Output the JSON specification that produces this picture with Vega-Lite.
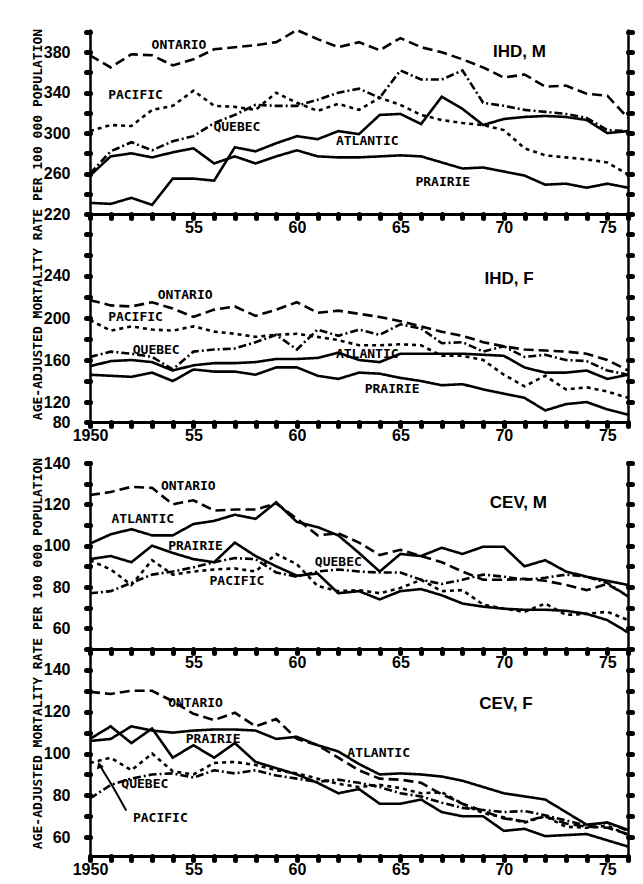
{
"$schema": "https://vega.github.io/schema/vega-lite/v6.json",
"background": "white",
"padding": {"left": 30, "top": 24, "right": 5, "bottom": 5},
"config": {
  "view": {"stroke": null},
  "axis": {"domainColor": "black", "tickColor": "black", "labelColor": "black", "titleColor": "black", "grid": false, "tickCap": "round", "tickWidth": 5, "tickSize": 4, "domainWidth": 2.5, "labelFont": "Liberation Sans Narrow, Liberation Sans, sans-serif", "labelFontWeight": "bold", "labelFontSize": 16, "labelFlush": false, "labelOverlap": false},
  "axisX": {"labelFontSize": 16, "labelPadding": 1, "domainWidth": 3},
  "axisY": {"labelPadding": 16}
},
"datasets": {
"s": [
{"p":"IHDM","r":"Ontario","y":1950,"v":377},{"p":"IHDM","r":"Ontario","y":1951,"v":365},{"p":"IHDM","r":"Ontario","y":1952,"v":378},{"p":"IHDM","r":"Ontario","y":1953,"v":377},{"p":"IHDM","r":"Ontario","y":1954,"v":367},{"p":"IHDM","r":"Ontario","y":1955,"v":373},{"p":"IHDM","r":"Ontario","y":1956,"v":383},{"p":"IHDM","r":"Ontario","y":1957,"v":385},{"p":"IHDM","r":"Ontario","y":1958,"v":387},{"p":"IHDM","r":"Ontario","y":1959,"v":390},{"p":"IHDM","r":"Ontario","y":1960,"v":402},{"p":"IHDM","r":"Ontario","y":1961,"v":393},{"p":"IHDM","r":"Ontario","y":1962,"v":385},{"p":"IHDM","r":"Ontario","y":1963,"v":390},{"p":"IHDM","r":"Ontario","y":1964,"v":382},{"p":"IHDM","r":"Ontario","y":1965,"v":394},{"p":"IHDM","r":"Ontario","y":1966,"v":385},{"p":"IHDM","r":"Ontario","y":1967,"v":380},{"p":"IHDM","r":"Ontario","y":1968,"v":373},{"p":"IHDM","r":"Ontario","y":1969,"v":365},{"p":"IHDM","r":"Ontario","y":1970,"v":355},{"p":"IHDM","r":"Ontario","y":1971,"v":358},{"p":"IHDM","r":"Ontario","y":1972,"v":346},{"p":"IHDM","r":"Ontario","y":1973,"v":347},{"p":"IHDM","r":"Ontario","y":1974,"v":339},{"p":"IHDM","r":"Ontario","y":1975,"v":337},{"p":"IHDM","r":"Ontario","y":1976,"v":315},
{"p":"IHDM","r":"Pacific","y":1950,"v":302},{"p":"IHDM","r":"Pacific","y":1951,"v":308},{"p":"IHDM","r":"Pacific","y":1952,"v":307},{"p":"IHDM","r":"Pacific","y":1953,"v":323},{"p":"IHDM","r":"Pacific","y":1954,"v":327},{"p":"IHDM","r":"Pacific","y":1955,"v":342},{"p":"IHDM","r":"Pacific","y":1956,"v":327},{"p":"IHDM","r":"Pacific","y":1957,"v":326},{"p":"IHDM","r":"Pacific","y":1958,"v":323},{"p":"IHDM","r":"Pacific","y":1959,"v":340},{"p":"IHDM","r":"Pacific","y":1960,"v":330},{"p":"IHDM","r":"Pacific","y":1961,"v":322},{"p":"IHDM","r":"Pacific","y":1962,"v":329},{"p":"IHDM","r":"Pacific","y":1963,"v":323},{"p":"IHDM","r":"Pacific","y":1964,"v":335},{"p":"IHDM","r":"Pacific","y":1965,"v":328},{"p":"IHDM","r":"Pacific","y":1966,"v":318},{"p":"IHDM","r":"Pacific","y":1967,"v":313},{"p":"IHDM","r":"Pacific","y":1968,"v":310},{"p":"IHDM","r":"Pacific","y":1969,"v":308},{"p":"IHDM","r":"Pacific","y":1970,"v":303},{"p":"IHDM","r":"Pacific","y":1971,"v":285},{"p":"IHDM","r":"Pacific","y":1972,"v":278},{"p":"IHDM","r":"Pacific","y":1973,"v":276},{"p":"IHDM","r":"Pacific","y":1974,"v":274},{"p":"IHDM","r":"Pacific","y":1975,"v":271},{"p":"IHDM","r":"Pacific","y":1976,"v":259},
{"p":"IHDM","r":"Quebec","y":1950,"v":260},{"p":"IHDM","r":"Quebec","y":1951,"v":282},{"p":"IHDM","r":"Quebec","y":1952,"v":291},{"p":"IHDM","r":"Quebec","y":1953,"v":283},{"p":"IHDM","r":"Quebec","y":1954,"v":292},{"p":"IHDM","r":"Quebec","y":1955,"v":297},{"p":"IHDM","r":"Quebec","y":1956,"v":310},{"p":"IHDM","r":"Quebec","y":1957,"v":318},{"p":"IHDM","r":"Quebec","y":1958,"v":328},{"p":"IHDM","r":"Quebec","y":1959,"v":327},{"p":"IHDM","r":"Quebec","y":1960,"v":327},{"p":"IHDM","r":"Quebec","y":1961,"v":333},{"p":"IHDM","r":"Quebec","y":1962,"v":340},{"p":"IHDM","r":"Quebec","y":1963,"v":344},{"p":"IHDM","r":"Quebec","y":1964,"v":335},{"p":"IHDM","r":"Quebec","y":1965,"v":362},{"p":"IHDM","r":"Quebec","y":1966,"v":353},{"p":"IHDM","r":"Quebec","y":1967,"v":353},{"p":"IHDM","r":"Quebec","y":1968,"v":362},{"p":"IHDM","r":"Quebec","y":1969,"v":330},{"p":"IHDM","r":"Quebec","y":1970,"v":327},{"p":"IHDM","r":"Quebec","y":1971,"v":323},{"p":"IHDM","r":"Quebec","y":1972,"v":321},{"p":"IHDM","r":"Quebec","y":1973,"v":319},{"p":"IHDM","r":"Quebec","y":1974,"v":315},{"p":"IHDM","r":"Quebec","y":1975,"v":303},{"p":"IHDM","r":"Quebec","y":1976,"v":302},
{"p":"IHDM","r":"Atlantic","y":1950,"v":231},{"p":"IHDM","r":"Atlantic","y":1951,"v":230},{"p":"IHDM","r":"Atlantic","y":1952,"v":236},{"p":"IHDM","r":"Atlantic","y":1953,"v":229},{"p":"IHDM","r":"Atlantic","y":1954,"v":255},{"p":"IHDM","r":"Atlantic","y":1955,"v":255},{"p":"IHDM","r":"Atlantic","y":1956,"v":253},{"p":"IHDM","r":"Atlantic","y":1957,"v":286},{"p":"IHDM","r":"Atlantic","y":1958,"v":282},{"p":"IHDM","r":"Atlantic","y":1959,"v":290},{"p":"IHDM","r":"Atlantic","y":1960,"v":297},{"p":"IHDM","r":"Atlantic","y":1961,"v":294},{"p":"IHDM","r":"Atlantic","y":1962,"v":302},{"p":"IHDM","r":"Atlantic","y":1963,"v":299},{"p":"IHDM","r":"Atlantic","y":1964,"v":318},{"p":"IHDM","r":"Atlantic","y":1965,"v":319},{"p":"IHDM","r":"Atlantic","y":1966,"v":309},{"p":"IHDM","r":"Atlantic","y":1967,"v":336},{"p":"IHDM","r":"Atlantic","y":1968,"v":324},{"p":"IHDM","r":"Atlantic","y":1969,"v":308},{"p":"IHDM","r":"Atlantic","y":1970,"v":314},{"p":"IHDM","r":"Atlantic","y":1971,"v":316},{"p":"IHDM","r":"Atlantic","y":1972,"v":317},{"p":"IHDM","r":"Atlantic","y":1973,"v":316},{"p":"IHDM","r":"Atlantic","y":1974,"v":313},{"p":"IHDM","r":"Atlantic","y":1975,"v":300},{"p":"IHDM","r":"Atlantic","y":1976,"v":302},
{"p":"IHDM","r":"Prairie","y":1950,"v":258},{"p":"IHDM","r":"Prairie","y":1951,"v":277},{"p":"IHDM","r":"Prairie","y":1952,"v":280},{"p":"IHDM","r":"Prairie","y":1953,"v":276},{"p":"IHDM","r":"Prairie","y":1954,"v":281},{"p":"IHDM","r":"Prairie","y":1955,"v":285},{"p":"IHDM","r":"Prairie","y":1956,"v":270},{"p":"IHDM","r":"Prairie","y":1957,"v":277},{"p":"IHDM","r":"Prairie","y":1958,"v":270},{"p":"IHDM","r":"Prairie","y":1959,"v":277},{"p":"IHDM","r":"Prairie","y":1960,"v":283},{"p":"IHDM","r":"Prairie","y":1961,"v":277},{"p":"IHDM","r":"Prairie","y":1962,"v":276},{"p":"IHDM","r":"Prairie","y":1963,"v":276},{"p":"IHDM","r":"Prairie","y":1964,"v":277},{"p":"IHDM","r":"Prairie","y":1965,"v":278},{"p":"IHDM","r":"Prairie","y":1966,"v":277},{"p":"IHDM","r":"Prairie","y":1967,"v":271},{"p":"IHDM","r":"Prairie","y":1968,"v":265},{"p":"IHDM","r":"Prairie","y":1969,"v":266},{"p":"IHDM","r":"Prairie","y":1970,"v":262},{"p":"IHDM","r":"Prairie","y":1971,"v":258},{"p":"IHDM","r":"Prairie","y":1972,"v":249},{"p":"IHDM","r":"Prairie","y":1973,"v":250},{"p":"IHDM","r":"Prairie","y":1974,"v":246},{"p":"IHDM","r":"Prairie","y":1975,"v":250},{"p":"IHDM","r":"Prairie","y":1976,"v":246},
{"p":"IHDF","r":"Ontario","y":1950,"v":217},{"p":"IHDF","r":"Ontario","y":1951,"v":212},{"p":"IHDF","r":"Ontario","y":1952,"v":211},{"p":"IHDF","r":"Ontario","y":1953,"v":215},{"p":"IHDF","r":"Ontario","y":1954,"v":209},{"p":"IHDF","r":"Ontario","y":1955,"v":201},{"p":"IHDF","r":"Ontario","y":1956,"v":208},{"p":"IHDF","r":"Ontario","y":1957,"v":211},{"p":"IHDF","r":"Ontario","y":1958,"v":202},{"p":"IHDF","r":"Ontario","y":1959,"v":208},{"p":"IHDF","r":"Ontario","y":1960,"v":215},{"p":"IHDF","r":"Ontario","y":1961,"v":205},{"p":"IHDF","r":"Ontario","y":1962,"v":207},{"p":"IHDF","r":"Ontario","y":1963,"v":204},{"p":"IHDF","r":"Ontario","y":1964,"v":201},{"p":"IHDF","r":"Ontario","y":1965,"v":197},{"p":"IHDF","r":"Ontario","y":1966,"v":192},{"p":"IHDF","r":"Ontario","y":1967,"v":187},{"p":"IHDF","r":"Ontario","y":1968,"v":183},{"p":"IHDF","r":"Ontario","y":1969,"v":177},{"p":"IHDF","r":"Ontario","y":1970,"v":173},{"p":"IHDF","r":"Ontario","y":1971,"v":170},{"p":"IHDF","r":"Ontario","y":1972,"v":169},{"p":"IHDF","r":"Ontario","y":1973,"v":168},{"p":"IHDF","r":"Ontario","y":1974,"v":166},{"p":"IHDF","r":"Ontario","y":1975,"v":160},{"p":"IHDF","r":"Ontario","y":1976,"v":150},
{"p":"IHDF","r":"Pacific","y":1950,"v":198},{"p":"IHDF","r":"Pacific","y":1951,"v":188},{"p":"IHDF","r":"Pacific","y":1952,"v":192},{"p":"IHDF","r":"Pacific","y":1953,"v":189},{"p":"IHDF","r":"Pacific","y":1954,"v":188},{"p":"IHDF","r":"Pacific","y":1955,"v":192},{"p":"IHDF","r":"Pacific","y":1956,"v":187},{"p":"IHDF","r":"Pacific","y":1957,"v":185},{"p":"IHDF","r":"Pacific","y":1958,"v":182},{"p":"IHDF","r":"Pacific","y":1959,"v":184},{"p":"IHDF","r":"Pacific","y":1960,"v":185},{"p":"IHDF","r":"Pacific","y":1961,"v":182},{"p":"IHDF","r":"Pacific","y":1962,"v":179},{"p":"IHDF","r":"Pacific","y":1963,"v":174},{"p":"IHDF","r":"Pacific","y":1964,"v":174},{"p":"IHDF","r":"Pacific","y":1965,"v":175},{"p":"IHDF","r":"Pacific","y":1966,"v":174},{"p":"IHDF","r":"Pacific","y":1967,"v":164},{"p":"IHDF","r":"Pacific","y":1968,"v":164},{"p":"IHDF","r":"Pacific","y":1969,"v":160},{"p":"IHDF","r":"Pacific","y":1970,"v":146},{"p":"IHDF","r":"Pacific","y":1971,"v":135},{"p":"IHDF","r":"Pacific","y":1972,"v":145},{"p":"IHDF","r":"Pacific","y":1973,"v":132},{"p":"IHDF","r":"Pacific","y":1974,"v":134},{"p":"IHDF","r":"Pacific","y":1975,"v":130},{"p":"IHDF","r":"Pacific","y":1976,"v":124},
{"p":"IHDF","r":"Quebec","y":1950,"v":163},{"p":"IHDF","r":"Quebec","y":1951,"v":168},{"p":"IHDF","r":"Quebec","y":1952,"v":166},{"p":"IHDF","r":"Quebec","y":1953,"v":163},{"p":"IHDF","r":"Quebec","y":1954,"v":151},{"p":"IHDF","r":"Quebec","y":1955,"v":168},{"p":"IHDF","r":"Quebec","y":1956,"v":170},{"p":"IHDF","r":"Quebec","y":1957,"v":171},{"p":"IHDF","r":"Quebec","y":1958,"v":177},{"p":"IHDF","r":"Quebec","y":1959,"v":184},{"p":"IHDF","r":"Quebec","y":1960,"v":170},{"p":"IHDF","r":"Quebec","y":1961,"v":189},{"p":"IHDF","r":"Quebec","y":1962,"v":183},{"p":"IHDF","r":"Quebec","y":1963,"v":189},{"p":"IHDF","r":"Quebec","y":1964,"v":184},{"p":"IHDF","r":"Quebec","y":1965,"v":194},{"p":"IHDF","r":"Quebec","y":1966,"v":190},{"p":"IHDF","r":"Quebec","y":1967,"v":176},{"p":"IHDF","r":"Quebec","y":1968,"v":177},{"p":"IHDF","r":"Quebec","y":1969,"v":168},{"p":"IHDF","r":"Quebec","y":1970,"v":173},{"p":"IHDF","r":"Quebec","y":1971,"v":163},{"p":"IHDF","r":"Quebec","y":1972,"v":165},{"p":"IHDF","r":"Quebec","y":1973,"v":160},{"p":"IHDF","r":"Quebec","y":1974,"v":159},{"p":"IHDF","r":"Quebec","y":1975,"v":150},{"p":"IHDF","r":"Quebec","y":1976,"v":146},
{"p":"IHDF","r":"Atlantic","y":1950,"v":154},{"p":"IHDF","r":"Atlantic","y":1951,"v":159},{"p":"IHDF","r":"Atlantic","y":1952,"v":160},{"p":"IHDF","r":"Atlantic","y":1953,"v":158},{"p":"IHDF","r":"Atlantic","y":1954,"v":150},{"p":"IHDF","r":"Atlantic","y":1955,"v":155},{"p":"IHDF","r":"Atlantic","y":1956,"v":157},{"p":"IHDF","r":"Atlantic","y":1957,"v":157},{"p":"IHDF","r":"Atlantic","y":1958,"v":158},{"p":"IHDF","r":"Atlantic","y":1959,"v":161},{"p":"IHDF","r":"Atlantic","y":1960,"v":161},{"p":"IHDF","r":"Atlantic","y":1961,"v":162},{"p":"IHDF","r":"Atlantic","y":1962,"v":167},{"p":"IHDF","r":"Atlantic","y":1963,"v":160},{"p":"IHDF","r":"Atlantic","y":1964,"v":158},{"p":"IHDF","r":"Atlantic","y":1965,"v":166},{"p":"IHDF","r":"Atlantic","y":1966,"v":166},{"p":"IHDF","r":"Atlantic","y":1967,"v":166},{"p":"IHDF","r":"Atlantic","y":1968,"v":166},{"p":"IHDF","r":"Atlantic","y":1969,"v":165},{"p":"IHDF","r":"Atlantic","y":1970,"v":164},{"p":"IHDF","r":"Atlantic","y":1971,"v":153},{"p":"IHDF","r":"Atlantic","y":1972,"v":148},{"p":"IHDF","r":"Atlantic","y":1973,"v":148},{"p":"IHDF","r":"Atlantic","y":1974,"v":150},{"p":"IHDF","r":"Atlantic","y":1975,"v":142},{"p":"IHDF","r":"Atlantic","y":1976,"v":146},
{"p":"IHDF","r":"Prairie","y":1950,"v":146},{"p":"IHDF","r":"Prairie","y":1951,"v":145},{"p":"IHDF","r":"Prairie","y":1952,"v":144},{"p":"IHDF","r":"Prairie","y":1953,"v":148},{"p":"IHDF","r":"Prairie","y":1954,"v":140},{"p":"IHDF","r":"Prairie","y":1955,"v":151},{"p":"IHDF","r":"Prairie","y":1956,"v":149},{"p":"IHDF","r":"Prairie","y":1957,"v":149},{"p":"IHDF","r":"Prairie","y":1958,"v":146},{"p":"IHDF","r":"Prairie","y":1959,"v":153},{"p":"IHDF","r":"Prairie","y":1960,"v":153},{"p":"IHDF","r":"Prairie","y":1961,"v":145},{"p":"IHDF","r":"Prairie","y":1962,"v":142},{"p":"IHDF","r":"Prairie","y":1963,"v":148},{"p":"IHDF","r":"Prairie","y":1964,"v":147},{"p":"IHDF","r":"Prairie","y":1965,"v":143},{"p":"IHDF","r":"Prairie","y":1966,"v":140},{"p":"IHDF","r":"Prairie","y":1967,"v":136},{"p":"IHDF","r":"Prairie","y":1968,"v":137},{"p":"IHDF","r":"Prairie","y":1969,"v":132},{"p":"IHDF","r":"Prairie","y":1970,"v":128},{"p":"IHDF","r":"Prairie","y":1971,"v":124},{"p":"IHDF","r":"Prairie","y":1972,"v":112},{"p":"IHDF","r":"Prairie","y":1973,"v":118},{"p":"IHDF","r":"Prairie","y":1974,"v":120},{"p":"IHDF","r":"Prairie","y":1975,"v":113},{"p":"IHDF","r":"Prairie","y":1976,"v":108},
{"p":"CEVM","r":"Ontario","y":1950,"v":124.5},{"p":"CEVM","r":"Ontario","y":1951,"v":126},{"p":"CEVM","r":"Ontario","y":1952,"v":128.5},{"p":"CEVM","r":"Ontario","y":1953,"v":128},{"p":"CEVM","r":"Ontario","y":1954,"v":120},{"p":"CEVM","r":"Ontario","y":1955,"v":122},{"p":"CEVM","r":"Ontario","y":1956,"v":117},{"p":"CEVM","r":"Ontario","y":1957,"v":117.5},{"p":"CEVM","r":"Ontario","y":1958,"v":117.5},{"p":"CEVM","r":"Ontario","y":1959,"v":120.5},{"p":"CEVM","r":"Ontario","y":1960,"v":113},{"p":"CEVM","r":"Ontario","y":1961,"v":105},{"p":"CEVM","r":"Ontario","y":1962,"v":106},{"p":"CEVM","r":"Ontario","y":1963,"v":101.5},{"p":"CEVM","r":"Ontario","y":1964,"v":95.5},{"p":"CEVM","r":"Ontario","y":1965,"v":98},{"p":"CEVM","r":"Ontario","y":1966,"v":95},{"p":"CEVM","r":"Ontario","y":1967,"v":92},{"p":"CEVM","r":"Ontario","y":1968,"v":87.5},{"p":"CEVM","r":"Ontario","y":1969,"v":83.5},{"p":"CEVM","r":"Ontario","y":1970,"v":83.5},{"p":"CEVM","r":"Ontario","y":1971,"v":84},{"p":"CEVM","r":"Ontario","y":1972,"v":83},{"p":"CEVM","r":"Ontario","y":1973,"v":81},{"p":"CEVM","r":"Ontario","y":1974,"v":78.5},{"p":"CEVM","r":"Ontario","y":1975,"v":81.5},{"p":"CEVM","r":"Ontario","y":1976,"v":75.5},
{"p":"CEVM","r":"Pacific","y":1950,"v":93},{"p":"CEVM","r":"Pacific","y":1951,"v":88.5},{"p":"CEVM","r":"Pacific","y":1952,"v":81},{"p":"CEVM","r":"Pacific","y":1953,"v":93},{"p":"CEVM","r":"Pacific","y":1954,"v":86},{"p":"CEVM","r":"Pacific","y":1955,"v":87.5},{"p":"CEVM","r":"Pacific","y":1956,"v":88.5},{"p":"CEVM","r":"Pacific","y":1957,"v":89},{"p":"CEVM","r":"Pacific","y":1958,"v":87.5},{"p":"CEVM","r":"Pacific","y":1959,"v":96},{"p":"CEVM","r":"Pacific","y":1960,"v":91},{"p":"CEVM","r":"Pacific","y":1961,"v":80.5},{"p":"CEVM","r":"Pacific","y":1962,"v":78},{"p":"CEVM","r":"Pacific","y":1963,"v":78.5},{"p":"CEVM","r":"Pacific","y":1964,"v":77},{"p":"CEVM","r":"Pacific","y":1965,"v":79.5},{"p":"CEVM","r":"Pacific","y":1966,"v":83.5},{"p":"CEVM","r":"Pacific","y":1967,"v":78},{"p":"CEVM","r":"Pacific","y":1968,"v":78.5},{"p":"CEVM","r":"Pacific","y":1969,"v":71.5},{"p":"CEVM","r":"Pacific","y":1970,"v":69.5},{"p":"CEVM","r":"Pacific","y":1971,"v":68},{"p":"CEVM","r":"Pacific","y":1972,"v":72},{"p":"CEVM","r":"Pacific","y":1973,"v":66.5},{"p":"CEVM","r":"Pacific","y":1974,"v":67},{"p":"CEVM","r":"Pacific","y":1975,"v":68},{"p":"CEVM","r":"Pacific","y":1976,"v":64},
{"p":"CEVM","r":"Quebec","y":1950,"v":77},{"p":"CEVM","r":"Quebec","y":1951,"v":78},{"p":"CEVM","r":"Quebec","y":1952,"v":82},{"p":"CEVM","r":"Quebec","y":1953,"v":86},{"p":"CEVM","r":"Quebec","y":1954,"v":87.5},{"p":"CEVM","r":"Quebec","y":1955,"v":89.5},{"p":"CEVM","r":"Quebec","y":1956,"v":92},{"p":"CEVM","r":"Quebec","y":1957,"v":94},{"p":"CEVM","r":"Quebec","y":1958,"v":93.5},{"p":"CEVM","r":"Quebec","y":1959,"v":87},{"p":"CEVM","r":"Quebec","y":1960,"v":85},{"p":"CEVM","r":"Quebec","y":1961,"v":87.5},{"p":"CEVM","r":"Quebec","y":1962,"v":88.5},{"p":"CEVM","r":"Quebec","y":1963,"v":87.5},{"p":"CEVM","r":"Quebec","y":1964,"v":87},{"p":"CEVM","r":"Quebec","y":1965,"v":87},{"p":"CEVM","r":"Quebec","y":1966,"v":83.5},{"p":"CEVM","r":"Quebec","y":1967,"v":81.5},{"p":"CEVM","r":"Quebec","y":1968,"v":83.5},{"p":"CEVM","r":"Quebec","y":1969,"v":86},{"p":"CEVM","r":"Quebec","y":1970,"v":85},{"p":"CEVM","r":"Quebec","y":1971,"v":83.5},{"p":"CEVM","r":"Quebec","y":1972,"v":84.5},{"p":"CEVM","r":"Quebec","y":1973,"v":86},{"p":"CEVM","r":"Quebec","y":1974,"v":85},{"p":"CEVM","r":"Quebec","y":1975,"v":82},{"p":"CEVM","r":"Quebec","y":1976,"v":75.5},
{"p":"CEVM","r":"Atlantic","y":1950,"v":101},{"p":"CEVM","r":"Atlantic","y":1951,"v":105.5},{"p":"CEVM","r":"Atlantic","y":1952,"v":108},{"p":"CEVM","r":"Atlantic","y":1953,"v":105},{"p":"CEVM","r":"Atlantic","y":1954,"v":105},{"p":"CEVM","r":"Atlantic","y":1955,"v":110.5},{"p":"CEVM","r":"Atlantic","y":1956,"v":112},{"p":"CEVM","r":"Atlantic","y":1957,"v":115},{"p":"CEVM","r":"Atlantic","y":1958,"v":113},{"p":"CEVM","r":"Atlantic","y":1959,"v":121},{"p":"CEVM","r":"Atlantic","y":1960,"v":111.5},{"p":"CEVM","r":"Atlantic","y":1961,"v":109},{"p":"CEVM","r":"Atlantic","y":1962,"v":105},{"p":"CEVM","r":"Atlantic","y":1963,"v":96.5},{"p":"CEVM","r":"Atlantic","y":1964,"v":87.5},{"p":"CEVM","r":"Atlantic","y":1965,"v":96},{"p":"CEVM","r":"Atlantic","y":1966,"v":95},{"p":"CEVM","r":"Atlantic","y":1967,"v":99},{"p":"CEVM","r":"Atlantic","y":1968,"v":96},{"p":"CEVM","r":"Atlantic","y":1969,"v":99.5},{"p":"CEVM","r":"Atlantic","y":1970,"v":99.5},{"p":"CEVM","r":"Atlantic","y":1971,"v":90},{"p":"CEVM","r":"Atlantic","y":1972,"v":93},{"p":"CEVM","r":"Atlantic","y":1973,"v":87.5},{"p":"CEVM","r":"Atlantic","y":1974,"v":85},{"p":"CEVM","r":"Atlantic","y":1975,"v":83},{"p":"CEVM","r":"Atlantic","y":1976,"v":81},
{"p":"CEVM","r":"Prairie","y":1950,"v":93.5},{"p":"CEVM","r":"Prairie","y":1951,"v":95},{"p":"CEVM","r":"Prairie","y":1952,"v":92},{"p":"CEVM","r":"Prairie","y":1953,"v":100},{"p":"CEVM","r":"Prairie","y":1954,"v":96.5},{"p":"CEVM","r":"Prairie","y":1955,"v":93.5},{"p":"CEVM","r":"Prairie","y":1956,"v":92},{"p":"CEVM","r":"Prairie","y":1957,"v":101.5},{"p":"CEVM","r":"Prairie","y":1958,"v":95},{"p":"CEVM","r":"Prairie","y":1959,"v":90},{"p":"CEVM","r":"Prairie","y":1960,"v":85.5},{"p":"CEVM","r":"Prairie","y":1961,"v":86.5},{"p":"CEVM","r":"Prairie","y":1962,"v":77},{"p":"CEVM","r":"Prairie","y":1963,"v":78},{"p":"CEVM","r":"Prairie","y":1964,"v":74},{"p":"CEVM","r":"Prairie","y":1965,"v":78},{"p":"CEVM","r":"Prairie","y":1966,"v":79},{"p":"CEVM","r":"Prairie","y":1967,"v":76},{"p":"CEVM","r":"Prairie","y":1968,"v":72},{"p":"CEVM","r":"Prairie","y":1969,"v":70.5},{"p":"CEVM","r":"Prairie","y":1970,"v":69.5},{"p":"CEVM","r":"Prairie","y":1971,"v":69},{"p":"CEVM","r":"Prairie","y":1972,"v":69},{"p":"CEVM","r":"Prairie","y":1973,"v":68.5},{"p":"CEVM","r":"Prairie","y":1974,"v":67},{"p":"CEVM","r":"Prairie","y":1975,"v":64},{"p":"CEVM","r":"Prairie","y":1976,"v":58},
{"p":"CEVF","r":"Ontario","y":1950,"v":129.5},{"p":"CEVF","r":"Ontario","y":1951,"v":128.5},{"p":"CEVF","r":"Ontario","y":1952,"v":130},{"p":"CEVF","r":"Ontario","y":1953,"v":130},{"p":"CEVF","r":"Ontario","y":1954,"v":125},{"p":"CEVF","r":"Ontario","y":1955,"v":119},{"p":"CEVF","r":"Ontario","y":1956,"v":116},{"p":"CEVF","r":"Ontario","y":1957,"v":119.5},{"p":"CEVF","r":"Ontario","y":1958,"v":113},{"p":"CEVF","r":"Ontario","y":1959,"v":116.5},{"p":"CEVF","r":"Ontario","y":1960,"v":107},{"p":"CEVF","r":"Ontario","y":1961,"v":104},{"p":"CEVF","r":"Ontario","y":1962,"v":98},{"p":"CEVF","r":"Ontario","y":1963,"v":92},{"p":"CEVF","r":"Ontario","y":1964,"v":88},{"p":"CEVF","r":"Ontario","y":1965,"v":87.5},{"p":"CEVF","r":"Ontario","y":1966,"v":86},{"p":"CEVF","r":"Ontario","y":1967,"v":80.5},{"p":"CEVF","r":"Ontario","y":1968,"v":76},{"p":"CEVF","r":"Ontario","y":1969,"v":72.5},{"p":"CEVF","r":"Ontario","y":1970,"v":69},{"p":"CEVF","r":"Ontario","y":1971,"v":67.5},{"p":"CEVF","r":"Ontario","y":1972,"v":70},{"p":"CEVF","r":"Ontario","y":1973,"v":66.5},{"p":"CEVF","r":"Ontario","y":1974,"v":65},{"p":"CEVF","r":"Ontario","y":1975,"v":64.5},{"p":"CEVF","r":"Ontario","y":1976,"v":61.5},
{"p":"CEVF","r":"Pacific","y":1950,"v":95.5},{"p":"CEVF","r":"Pacific","y":1951,"v":98},{"p":"CEVF","r":"Pacific","y":1952,"v":92},{"p":"CEVF","r":"Pacific","y":1953,"v":100},{"p":"CEVF","r":"Pacific","y":1954,"v":91.5},{"p":"CEVF","r":"Pacific","y":1955,"v":90},{"p":"CEVF","r":"Pacific","y":1956,"v":95.5},{"p":"CEVF","r":"Pacific","y":1957,"v":96},{"p":"CEVF","r":"Pacific","y":1958,"v":94.5},{"p":"CEVF","r":"Pacific","y":1959,"v":92},{"p":"CEVF","r":"Pacific","y":1960,"v":90.5},{"p":"CEVF","r":"Pacific","y":1961,"v":88},{"p":"CEVF","r":"Pacific","y":1962,"v":85.5},{"p":"CEVF","r":"Pacific","y":1963,"v":84},{"p":"CEVF","r":"Pacific","y":1964,"v":85},{"p":"CEVF","r":"Pacific","y":1965,"v":83.5},{"p":"CEVF","r":"Pacific","y":1966,"v":81},{"p":"CEVF","r":"Pacific","y":1967,"v":81.5},{"p":"CEVF","r":"Pacific","y":1968,"v":76},{"p":"CEVF","r":"Pacific","y":1969,"v":71.5},{"p":"CEVF","r":"Pacific","y":1970,"v":69.5},{"p":"CEVF","r":"Pacific","y":1971,"v":67},{"p":"CEVF","r":"Pacific","y":1972,"v":70},{"p":"CEVF","r":"Pacific","y":1973,"v":65},{"p":"CEVF","r":"Pacific","y":1974,"v":64.5},{"p":"CEVF","r":"Pacific","y":1975,"v":65.5},{"p":"CEVF","r":"Pacific","y":1976,"v":61},
{"p":"CEVF","r":"Quebec","y":1950,"v":78.5},{"p":"CEVF","r":"Quebec","y":1951,"v":85},{"p":"CEVF","r":"Quebec","y":1952,"v":88},{"p":"CEVF","r":"Quebec","y":1953,"v":90},{"p":"CEVF","r":"Quebec","y":1954,"v":90.5},{"p":"CEVF","r":"Quebec","y":1955,"v":88.5},{"p":"CEVF","r":"Quebec","y":1956,"v":92},{"p":"CEVF","r":"Quebec","y":1957,"v":90.5},{"p":"CEVF","r":"Quebec","y":1958,"v":92},{"p":"CEVF","r":"Quebec","y":1959,"v":89.5},{"p":"CEVF","r":"Quebec","y":1960,"v":88},{"p":"CEVF","r":"Quebec","y":1961,"v":86.5},{"p":"CEVF","r":"Quebec","y":1962,"v":87.5},{"p":"CEVF","r":"Quebec","y":1963,"v":86},{"p":"CEVF","r":"Quebec","y":1964,"v":84},{"p":"CEVF","r":"Quebec","y":1965,"v":81},{"p":"CEVF","r":"Quebec","y":1966,"v":79.5},{"p":"CEVF","r":"Quebec","y":1967,"v":76.5},{"p":"CEVF","r":"Quebec","y":1968,"v":74},{"p":"CEVF","r":"Quebec","y":1969,"v":73},{"p":"CEVF","r":"Quebec","y":1970,"v":72},{"p":"CEVF","r":"Quebec","y":1971,"v":72.5},{"p":"CEVF","r":"Quebec","y":1972,"v":70.5},{"p":"CEVF","r":"Quebec","y":1973,"v":68},{"p":"CEVF","r":"Quebec","y":1974,"v":65.5},{"p":"CEVF","r":"Quebec","y":1975,"v":67},{"p":"CEVF","r":"Quebec","y":1976,"v":63},
{"p":"CEVF","r":"Atlantic","y":1950,"v":106},{"p":"CEVF","r":"Atlantic","y":1951,"v":107},{"p":"CEVF","r":"Atlantic","y":1952,"v":113},{"p":"CEVF","r":"Atlantic","y":1953,"v":111},{"p":"CEVF","r":"Atlantic","y":1954,"v":110},{"p":"CEVF","r":"Atlantic","y":1955,"v":111},{"p":"CEVF","r":"Atlantic","y":1956,"v":111.5},{"p":"CEVF","r":"Atlantic","y":1957,"v":111.5},{"p":"CEVF","r":"Atlantic","y":1958,"v":111},{"p":"CEVF","r":"Atlantic","y":1959,"v":107},{"p":"CEVF","r":"Atlantic","y":1960,"v":108},{"p":"CEVF","r":"Atlantic","y":1961,"v":104},{"p":"CEVF","r":"Atlantic","y":1962,"v":101},{"p":"CEVF","r":"Atlantic","y":1963,"v":95},{"p":"CEVF","r":"Atlantic","y":1964,"v":90},{"p":"CEVF","r":"Atlantic","y":1965,"v":90.5},{"p":"CEVF","r":"Atlantic","y":1966,"v":90},{"p":"CEVF","r":"Atlantic","y":1967,"v":89},{"p":"CEVF","r":"Atlantic","y":1968,"v":87},{"p":"CEVF","r":"Atlantic","y":1969,"v":84},{"p":"CEVF","r":"Atlantic","y":1970,"v":81},{"p":"CEVF","r":"Atlantic","y":1971,"v":79.5},{"p":"CEVF","r":"Atlantic","y":1972,"v":78},{"p":"CEVF","r":"Atlantic","y":1973,"v":72},{"p":"CEVF","r":"Atlantic","y":1974,"v":66},{"p":"CEVF","r":"Atlantic","y":1975,"v":67},{"p":"CEVF","r":"Atlantic","y":1976,"v":63.5},
{"p":"CEVF","r":"Prairie","y":1950,"v":107},{"p":"CEVF","r":"Prairie","y":1951,"v":113},{"p":"CEVF","r":"Prairie","y":1952,"v":105},{"p":"CEVF","r":"Prairie","y":1953,"v":112},{"p":"CEVF","r":"Prairie","y":1954,"v":98},{"p":"CEVF","r":"Prairie","y":1955,"v":104},{"p":"CEVF","r":"Prairie","y":1956,"v":98},{"p":"CEVF","r":"Prairie","y":1957,"v":105},{"p":"CEVF","r":"Prairie","y":1958,"v":96},{"p":"CEVF","r":"Prairie","y":1959,"v":93},{"p":"CEVF","r":"Prairie","y":1960,"v":90},{"p":"CEVF","r":"Prairie","y":1961,"v":86},{"p":"CEVF","r":"Prairie","y":1962,"v":81},{"p":"CEVF","r":"Prairie","y":1963,"v":83},{"p":"CEVF","r":"Prairie","y":1964,"v":76},{"p":"CEVF","r":"Prairie","y":1965,"v":76},{"p":"CEVF","r":"Prairie","y":1966,"v":78},{"p":"CEVF","r":"Prairie","y":1967,"v":72},{"p":"CEVF","r":"Prairie","y":1968,"v":70},{"p":"CEVF","r":"Prairie","y":1969,"v":70},{"p":"CEVF","r":"Prairie","y":1970,"v":63},{"p":"CEVF","r":"Prairie","y":1971,"v":64},{"p":"CEVF","r":"Prairie","y":1972,"v":60.5},{"p":"CEVF","r":"Prairie","y":1973,"v":61},{"p":"CEVF","r":"Prairie","y":1974,"v":61.5},{"p":"CEVF","r":"Prairie","y":1975,"v":58.5},{"p":"CEVF","r":"Prairie","y":1976,"v":55.5}
],
"lab": [
{"p":"IHDM","t":"ONTARIO","y":1954.3,"v":387},{"p":"IHDM","t":"PACIFIC","y":1952.2,"v":338},{"p":"IHDM","t":"QUEBEC","y":1957.1,"v":306},{"p":"IHDM","t":"ATLANTIC","y":1963.4,"v":292},{"p":"IHDM","t":"PRAIRIE","y":1967.05,"v":252},
{"p":"IHDF","t":"ONTARIO","y":1954.6,"v":222},{"p":"IHDF","t":"PACIFIC","y":1952.2,"v":201},{"p":"IHDF","t":"QUEBEC","y":1953.2,"v":169.5},{"p":"IHDF","t":"ATLANTIC","y":1963.4,"v":166},{"p":"IHDF","t":"PRAIRIE","y":1964.6,"v":132},
{"p":"CEVM","t":"ONTARIO","y":1954.75,"v":129},{"p":"CEVM","t":"ATLANTIC","y":1952.55,"v":113},{"p":"CEVM","t":"PRAIRIE","y":1955.1,"v":100},{"p":"CEVM","t":"QUEBEC","y":1962,"v":92},{"p":"CEVM","t":"PACIFIC","y":1957.1,"v":83},
{"p":"CEVF","t":"ONTARIO","y":1955.1,"v":124},{"p":"CEVF","t":"PRAIRIE","y":1955.95,"v":107},{"p":"CEVF","t":"QUEBEC","y":1952.65,"v":85.5},{"p":"CEVF","t":"PACIFIC","y":1953.4,"v":69},{"p":"CEVF","t":"ATLANTIC","y":1963.95,"v":100.5}
],
"ttl": [
{"p":"IHDM","t":"IHD, M","y":1970.75,"v":380},{"p":"IHDF","t":"IHD, F","y":1970.25,"v":237},{"p":"CEVM","t":"CEV, M","y":1970.7,"v":120.5},{"p":"CEVF","t":"CEV, F","y":1970.1,"v":123.7}
],
"arr": [
{"o":1,"y":1951.75,"v":72.8},{"o":2,"y":1951.2,"v":82.5},{"o":3,"y":1950.8,"v":89},{"o":4,"y":1950.5,"v":94}
],
"head": [{"y":1950.45,"v":94.5}]
},
"spacing": 12,
"vconcat": [
{"bounds": "flush", "spacing": 0, "vconcat": [
 {"width": 538, "height": 185,
  "resolve": {"axis": {"x": "independent", "y": "independent"}},
  "layer": [
   {"data": {"name": "s"}, "transform": [{"filter": "datum.p == 'IHDM'"}],
    "mark": {"type": "line", "color": "black"},
    "encoding": {
     "x": {"field": "y", "type": "quantitative", "scale": {"domain": [1950, 1976], "nice": false, "zero": false},
       "axis": {"orient": "bottom", "title": null, "values": [1950,1951,1952,1953,1954,1955,1956,1957,1958,1959,1960,1961,1962,1963,1964,1965,1966,1967,1968,1969,1970,1971,1972,1973,1974,1975,1976], "labelExpr": "datum.value % 5 == 0 && datum.value != 1950 ? '' + (datum.value - 1900) : ''"}},
     "y": {"field": "v", "type": "quantitative", "scale": {"domain": [220, 403], "nice": false, "zero": false},
       "axis": {"orient": "left", "values": [220,240,260,280,300,320,340,360,380,400], "labelExpr": "(datum.value - 220) % 40 == 0 ? datum.label : ''",
        "title": "AGE-ADJUSTED MORTALITY RATE PER 100 000 POPULATION", "titleX": -53, "titleY": 195, "titleAngle": -90, "titleAlign": "center", "titleBaseline": "middle", "titleFont": "DejaVu Sans Mono", "titleFontSize": 13, "titleFontWeight": "bold"}},
     "detail": {"field": "r"},
     "strokeDash": {"field": "r", "type": "nominal", "legend": null, "scale": {"domain": ["Ontario","Pacific","Quebec","Atlantic","Prairie"], "range": [[10,5],[4,4],[8,3,2,3],[1,0],[1,0]]}},
     "strokeWidth": {"field": "r", "type": "nominal", "legend": null, "scale": {"domain": ["Ontario","Pacific","Quebec","Atlantic","Prairie"], "range": [2.6,2.6,2.4,1.6,2.4]}}
    }},
   {"data": {"name": "lab"}, "transform": [{"filter": "datum.p == 'IHDM'"}],
    "mark": {"type": "text", "font": "DejaVu Sans Mono", "fontSize": 13, "fontWeight": "bold", "color": "black"},
    "encoding": {
     "x": {"field": "y", "type": "quantitative", "scale": {"domain": [1950, 1976], "nice": false, "zero": false}, "axis": null},
     "y": {"field": "v", "type": "quantitative", "scale": {"domain": [220, 403], "nice": false, "zero": false},
       "axis": {"orient": "right", "values": [220,240,260,280,300,320,340,360,380,400], "labels": false, "title": null}},
     "text": {"field": "t"}}},
   {"data": {"name": "ttl"}, "transform": [{"filter": "datum.p == 'IHDM'"}],
    "mark": {"type": "text", "font": "Liberation Sans", "fontSize": 17, "fontWeight": "bold", "color": "black"},
    "encoding": {
     "x": {"field": "y", "type": "quantitative", "scale": {"domain": [1950, 1976], "nice": false, "zero": false}, "axis": null},
     "y": {"field": "v", "type": "quantitative", "scale": {"domain": [220, 403], "nice": false, "zero": false}, "axis": null},
     "text": {"field": "t"}}}
  ]},
 {"width": 538, "height": 208,
  "resolve": {"axis": {"x": "independent", "y": "independent"}},
  "layer": [
   {"data": {"name": "s"}, "transform": [{"filter": "datum.p == 'IHDF'"}],
    "mark": {"type": "line", "color": "black"},
    "encoding": {
     "x": {"field": "y", "type": "quantitative", "scale": {"domain": [1950, 1976], "nice": false, "zero": false},
       "axis": {"orient": "bottom", "title": null, "values": [1950,1951,1952,1953,1954,1955,1956,1957,1958,1959,1960,1961,1962,1963,1964,1965,1966,1967,1968,1969,1970,1971,1972,1973,1974,1975,1976], "labelExpr": "datum.value % 5 == 0 ? (datum.value == 1950 ? '1950' : '' + (datum.value - 1900)) : ''"}},
     "y": {"field": "v", "type": "quantitative", "scale": {"domain": [101, 299], "nice": false, "zero": false},
       "axis": {"orient": "left", "values": [101,120,140,160,180,200,220,240,260,280], "labelExpr": "datum.value == 101 ? '80' : (datum.value % 40 == 0 && datum.value <= 240 ? datum.label : '')", "title": null}},
     "detail": {"field": "r"},
     "strokeDash": {"field": "r", "type": "nominal", "legend": null, "scale": {"domain": ["Ontario","Pacific","Quebec","Atlantic","Prairie"], "range": [[10,5],[4,4],[8,3,2,3],[1,0],[1,0]]}},
     "strokeWidth": {"field": "r", "type": "nominal", "legend": null, "scale": {"domain": ["Ontario","Pacific","Quebec","Atlantic","Prairie"], "range": [2.6,2.6,2.4,1.6,2.4]}}
    }},
   {"data": {"name": "lab"}, "transform": [{"filter": "datum.p == 'IHDF'"}],
    "mark": {"type": "text", "font": "DejaVu Sans Mono", "fontSize": 13, "fontWeight": "bold", "color": "black"},
    "encoding": {
     "x": {"field": "y", "type": "quantitative", "scale": {"domain": [1950, 1976], "nice": false, "zero": false}, "axis": null},
     "y": {"field": "v", "type": "quantitative", "scale": {"domain": [101, 299], "nice": false, "zero": false},
       "axis": {"orient": "right", "values": [120,140,160,180,200,220,240,260,280], "labels": false, "title": null}},
     "text": {"field": "t"}}},
   {"data": {"name": "ttl"}, "transform": [{"filter": "datum.p == 'IHDF'"}],
    "mark": {"type": "text", "font": "Liberation Sans", "fontSize": 17, "fontWeight": "bold", "color": "black"},
    "encoding": {
     "x": {"field": "y", "type": "quantitative", "scale": {"domain": [1950, 1976], "nice": false, "zero": false}, "axis": null},
     "y": {"field": "v", "type": "quantitative", "scale": {"domain": [101, 299], "nice": false, "zero": false}, "axis": null},
     "text": {"field": "t"}}}
  ]}
]},
{"bounds": "flush", "spacing": 0, "vconcat": [
 {"width": 538, "height": 188,
  "resolve": {"axis": {"x": "independent", "y": "independent"}},
  "layer": [
   {"data": {"name": "s"}, "transform": [{"filter": "datum.p == 'CEVM'"}],
    "mark": {"type": "line", "color": "black"},
    "encoding": {
     "x": {"field": "y", "type": "quantitative", "scale": {"domain": [1950, 1976], "nice": false, "zero": false},
       "axis": {"orient": "bottom", "title": null, "values": [1950,1951,1952,1953,1954,1955,1956,1957,1958,1959,1960,1961,1962,1963,1964,1965,1966,1967,1968,1969,1970,1971,1972,1973,1974,1975,1976], "labelExpr": "datum.value % 5 == 0 && datum.value != 1950 ? '' + (datum.value - 1900) : ''"}},
     "y": {"field": "v", "type": "quantitative", "scale": {"domain": [50, 141], "nice": false, "zero": false},
       "axis": {"orient": "left", "values": [60,70,80,90,100,110,120,130,140], "labelExpr": "datum.value % 20 == 0 ? datum.label : ''",
        "title": "AGE-ADJUSTED MORTALITY RATE PER 100 000 POPULATION", "titleX": -53, "titleY": 192, "titleAngle": -90, "titleAlign": "center", "titleBaseline": "middle", "titleFont": "DejaVu Sans Mono", "titleFontSize": 13, "titleFontWeight": "bold"}},
     "detail": {"field": "r"},
     "strokeDash": {"field": "r", "type": "nominal", "legend": null, "scale": {"domain": ["Ontario","Pacific","Quebec","Atlantic","Prairie"], "range": [[10,5],[4,4],[8,3,2,3],[1,0],[1,0]]}},
     "strokeWidth": {"field": "r", "type": "nominal", "legend": null, "scale": {"domain": ["Ontario","Pacific","Quebec","Atlantic","Prairie"], "range": [2.6,2.6,2.4,1.6,2.4]}}
    }},
   {"data": {"name": "lab"}, "transform": [{"filter": "datum.p == 'CEVM'"}],
    "mark": {"type": "text", "font": "DejaVu Sans Mono", "fontSize": 13, "fontWeight": "bold", "color": "black"},
    "encoding": {
     "x": {"field": "y", "type": "quantitative", "scale": {"domain": [1950, 1976], "nice": false, "zero": false}, "axis": null},
     "y": {"field": "v", "type": "quantitative", "scale": {"domain": [50, 141], "nice": false, "zero": false},
       "axis": {"orient": "right", "values": [60,70,80,90,100,110,120,130,140], "labels": false, "title": null}},
     "text": {"field": "t"}}},
   {"data": {"name": "ttl"}, "transform": [{"filter": "datum.p == 'CEVM'"}],
    "mark": {"type": "text", "font": "Liberation Sans", "fontSize": 17, "fontWeight": "bold", "color": "black"},
    "encoding": {
     "x": {"field": "y", "type": "quantitative", "scale": {"domain": [1950, 1976], "nice": false, "zero": false}, "axis": null},
     "y": {"field": "v", "type": "quantitative", "scale": {"domain": [50, 141], "nice": false, "zero": false}, "axis": null},
     "text": {"field": "t"}}}
  ]},
 {"width": 538, "height": 207,
  "resolve": {"axis": {"x": "independent", "y": "independent"}},
  "layer": [
   {"data": {"name": "s"}, "transform": [{"filter": "datum.p == 'CEVF'"}],
    "mark": {"type": "line", "color": "black"},
    "encoding": {
     "x": {"field": "y", "type": "quantitative", "scale": {"domain": [1950, 1976], "nice": false, "zero": false},
       "axis": {"orient": "bottom", "title": null, "values": [1950,1951,1952,1953,1954,1955,1956,1957,1958,1959,1960,1961,1962,1963,1964,1965,1966,1967,1968,1969,1970,1971,1972,1973,1974,1975,1976], "labelExpr": "datum.value % 5 == 0 ? (datum.value == 1950 ? '1950' : '' + (datum.value - 1900)) : ''"}},
     "y": {"field": "v", "type": "quantitative", "scale": {"domain": [51, 150], "nice": false, "zero": false},
       "axis": {"orient": "left", "values": [60,70,80,90,100,110,120,130,140,150], "labelExpr": "datum.value % 20 == 0 && datum.value <= 140 ? datum.label : ''", "title": null}},
     "detail": {"field": "r"},
     "strokeDash": {"field": "r", "type": "nominal", "legend": null, "scale": {"domain": ["Ontario","Pacific","Quebec","Atlantic","Prairie"], "range": [[10,5],[4,4],[8,3,2,3],[1,0],[1,0]]}},
     "strokeWidth": {"field": "r", "type": "nominal", "legend": null, "scale": {"domain": ["Ontario","Pacific","Quebec","Atlantic","Prairie"], "range": [2.6,2.6,2.4,1.6,2.4]}}
    }},
   {"data": {"name": "lab"}, "transform": [{"filter": "datum.p == 'CEVF'"}],
    "mark": {"type": "text", "font": "DejaVu Sans Mono", "fontSize": 13, "fontWeight": "bold", "color": "black"},
    "encoding": {
     "x": {"field": "y", "type": "quantitative", "scale": {"domain": [1950, 1976], "nice": false, "zero": false}, "axis": null},
     "y": {"field": "v", "type": "quantitative", "scale": {"domain": [51, 150], "nice": false, "zero": false},
       "axis": {"orient": "right", "values": [60,70,80,90,100,110,120,130,140,150], "labels": false, "title": null}},
     "text": {"field": "t"}}},
   {"data": {"name": "ttl"}, "transform": [{"filter": "datum.p == 'CEVF'"}],
    "mark": {"type": "text", "font": "Liberation Sans", "fontSize": 17, "fontWeight": "bold", "color": "black"},
    "encoding": {
     "x": {"field": "y", "type": "quantitative", "scale": {"domain": [1950, 1976], "nice": false, "zero": false}, "axis": null},
     "y": {"field": "v", "type": "quantitative", "scale": {"domain": [51, 150], "nice": false, "zero": false}, "axis": null},
     "text": {"field": "t"}}},
   {"data": {"name": "arr"},
    "mark": {"type": "line", "color": "black", "strokeWidth": 2, "interpolate": "cardinal"},
    "encoding": {
     "x": {"field": "y", "type": "quantitative", "scale": {"domain": [1950, 1976], "nice": false, "zero": false}, "axis": null},
     "y": {"field": "v", "type": "quantitative", "scale": {"domain": [51, 150], "nice": false, "zero": false}, "axis": null},
     "order": {"field": "o"}}},
   {"data": {"name": "head"},
    "mark": {"type": "point", "shape": "triangle-up", "filled": true, "color": "black", "opacity": 1, "size": 55, "angle": -18},
    "encoding": {
     "x": {"field": "y", "type": "quantitative", "scale": {"domain": [1950, 1976], "nice": false, "zero": false}, "axis": null},
     "y": {"field": "v", "type": "quantitative", "scale": {"domain": [51, 150], "nice": false, "zero": false}, "axis": null}}}
  ]}
]}
]
}
